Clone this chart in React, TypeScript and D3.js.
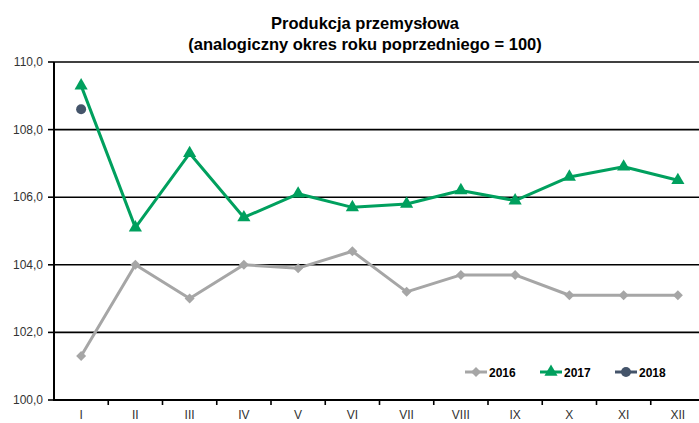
import React from "react";
import * as d3 from "d3";

const months = ["I", "II", "III", "IV", "V", "VI", "VII", "VIII", "IX", "X", "XI", "XII"];
const values2016 = [101.3, 104.0, 103.0, 104.0, 103.9, 104.4, 103.2, 103.7, 103.7, 103.1, 103.1, 103.1];
const values2017 = [109.3, 105.1, 107.3, 105.4, 106.1, 105.7, 105.8, 106.2, 105.9, 106.6, 106.9, 106.5];
const values2018 = [108.6];
const yTicks = [100, 102, 104, 106, 108, 110];
const seriesNames = ["2016", "2017", "2018"];
const titleLines = ["Produkcja przemysłowa", "(analogiczny okres roku poprzedniego = 100)"];

const W = 699;
const H = 423;
const FONT = "'Liberation Sans', Arial, sans-serif";
const GRAY = "#A6A6A6";
const GREEN = "#00A05E";
const DARK = "#44546A";

export default function App() {
  const x = d3.scaleBand<string>().domain(months).range([54, 705]);
  const y = d3.scaleLinear().domain([100, 110]).range([400, 62]);
  const cx = (m: string) => (x(m) as number) + x.bandwidth() / 2;

  const line = d3
    .line<number>()
    .x((_, i) => cx(months[i]))
    .y((v) => y(v));

  const diamond = d3.symbol().type(d3.symbolSquare).size(50)();
  const triangle = d3.symbol().type(d3.symbolTriangle).size(75)();

  const fmt = (v: number) => v.toFixed(1).replace(".", ",");

  const legendItems = [
    { name: seriesNames[0], color: GRAY, marker: "diamond", x0: 465 },
    { name: seriesNames[1], color: GREEN, marker: "triangle", x0: 540 },
    { name: seriesNames[2], color: DARK, marker: "circle", x0: 615 },
  ];
  const ly = 372;

  return (
    <svg
      width={W}
      height={H}
      style={{ position: "absolute", left: 0, top: 0, display: "block", background: "#fff" }}
      fontFamily={FONT}
    >
      <text x={365} y={28.5} textAnchor="middle" fontSize={16.5} fontWeight="bold" fill="#000">
        {titleLines[0]}
      </text>
      <text x={365} y={49.5} textAnchor="middle" fontSize={16.5} fontWeight="bold" fill="#000">
        {titleLines[1]}
      </text>

      {/* grid lines */}
      {yTicks.slice(1).map((t) => (
        <line key={t} x1={54} x2={705} y1={y(t)} y2={y(t)} stroke="#000" strokeWidth={1.6} />
      ))}

      {/* y axis */}
      <line x1={54} x2={54} y1={y(110)} y2={y(100) + 1} stroke="#000" strokeWidth={2} />
      {yTicks.map((t) => (
        <g key={t}>
          <line x1={48} x2={54} y1={y(t)} y2={y(t)} stroke="#000" strokeWidth={1.6} />
          <text x={43} y={y(t) + 4} textAnchor="end" fontSize={12} fill="#333">
            {fmt(t)}
          </text>
        </g>
      ))}

      {/* x axis */}
      <line x1={53} x2={705} y1={y(100)} y2={y(100)} stroke="#000" strokeWidth={2} />
      {months.map((m, i) => (
        <g key={m}>
          {i > 0 && (
            <line x1={x(m)} x2={x(m)} y1={y(100)} y2={y(100) + 5} stroke="#000" strokeWidth={1.6} />
          )}
          <text x={cx(m)} y={419} textAnchor="middle" fontSize={12} fill="#333">
            {m}
          </text>
        </g>
      ))}

      {/* series 2016 */}
      <path d={line(values2016) as string} fill="none" stroke={GRAY} strokeWidth={3} strokeLinejoin="round" />
      {values2016.map((v, i) => (
        <path
          key={i}
          d={diamond as string}
          transform={`translate(${cx(months[i])},${y(v)}) rotate(45)`}
          fill={GRAY}
        />
      ))}

      {/* series 2017 */}
      <path d={line(values2017) as string} fill="none" stroke={GREEN} strokeWidth={3} strokeLinejoin="round" />
      {values2017.map((v, i) => (
        <path key={i} d={triangle as string} transform={`translate(${cx(months[i])},${y(v)})`} fill={GREEN} />
      ))}

      {/* series 2018 */}
      {values2018.map((v, i) => (
        <circle key={i} cx={cx(months[i])} cy={y(v)} r={5} fill={DARK} />
      ))}

      {/* legend */}
      {legendItems.map((it) => (
        <g key={it.name}>
          <line x1={it.x0} x2={it.x0 + 22} y1={ly} y2={ly} stroke={it.color} strokeWidth={3} />
          {it.marker === "diamond" && (
            <path d={diamond as string} transform={`translate(${it.x0 + 11},${ly}) rotate(45)`} fill={it.color} />
          )}
          {it.marker === "triangle" && (
            <path d={triangle as string} transform={`translate(${it.x0 + 11},${ly})`} fill={it.color} />
          )}
          {it.marker === "circle" && <circle cx={it.x0 + 11} cy={ly} r={5} fill={it.color} />}
          <text x={it.x0 + 24} y={ly + 4.5} fontSize={12} fontWeight="bold" fill="#000">
            {it.name}
          </text>
        </g>
      ))}
    </svg>
  );
}
